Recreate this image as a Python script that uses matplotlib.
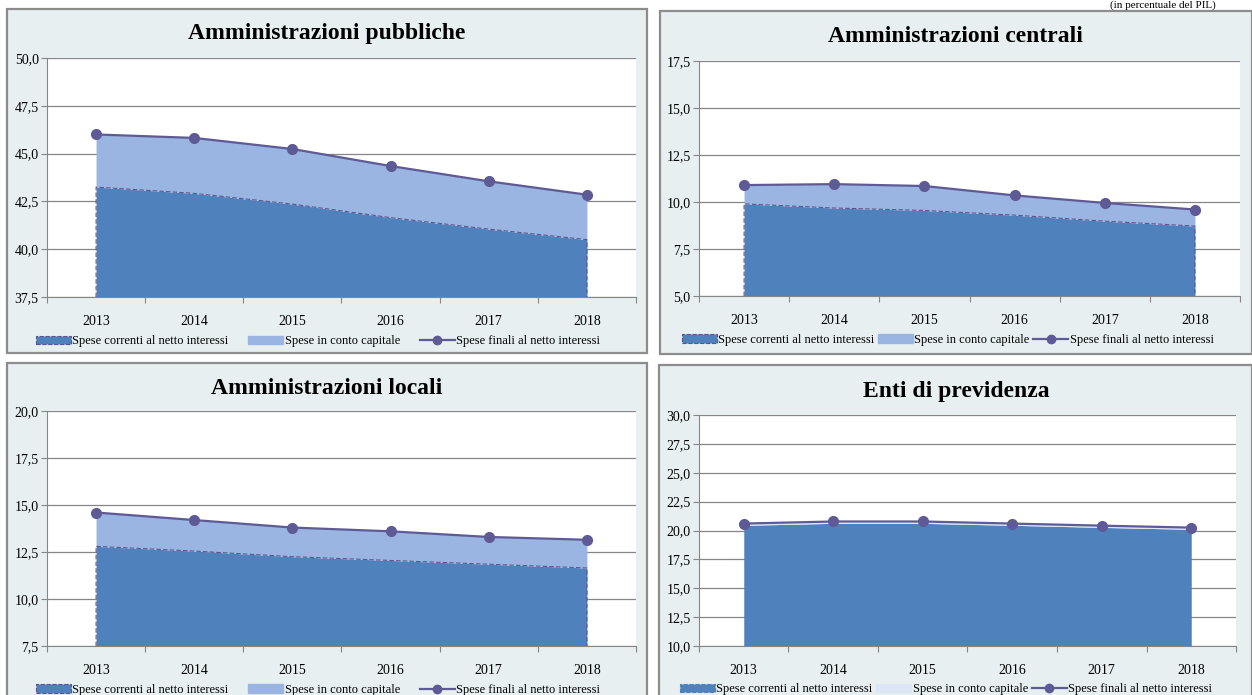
import matplotlib
matplotlib.use("Agg")
import matplotlib.pyplot as plt
from matplotlib.patches import Rectangle, Patch
from matplotlib.lines import Line2D
from matplotlib.ticker import FuncFormatter, FixedLocator

plt.rcParams['font.family'] = ['Liberation Serif', 'DejaVu Serif']

years = ['2013', '2014', '2015', '2016', '2017', '2018']

titles = ['Amministrazioni pubbliche', 'Amministrazioni centrali',
          'Amministrazioni locali', 'Enti di previdenza']

# Spese correnti al netto interessi
correnti_ap = [43.25, 42.92, 42.36, 41.65, 41.05, 40.50]
correnti_ac = [9.90, 9.68, 9.55, 9.30, 8.98, 8.72]
correnti_al = [12.80, 12.55, 12.25, 12.05, 11.85, 11.65]
correnti_ep = [20.45, 20.62, 20.62, 20.45, 20.27, 20.10]

# Spese finali al netto interessi
finali_ap = [46.00, 45.82, 45.24, 44.35, 43.55, 42.85]
finali_ac = [10.90, 10.95, 10.85, 10.35, 9.95, 9.60]
finali_al = [14.60, 14.20, 13.80, 13.60, 13.30, 13.15]
finali_ep = [20.60, 20.78, 20.78, 20.60, 20.42, 20.25]

ylims = [(37.5, 50.0), (5.0, 17.5), (7.5, 20.0), (10.0, 30.0)]

legend_labels = ['Spese correnti al netto interessi', 'Spese in conto capitale',
                 'Spese finali al netto interessi']

W, H = 1252, 695
fig = plt.figure(figsize=(W / 100, H / 100), dpi=100)
fig.patch.set_facecolor('white')

panel_bg = '#E7EFF1'
panel_edge = '#8C8C8C'
c_cur = '#4F81BD'
c_cap = ['#9BB5E2', '#9BB5E2', '#9BB5E2', '#DCE6F4']
c_line = '#5E5A95'
c_dash = '#5A5590'

# panel rectangles (px): left, top, right, bottom
panels = [(7, 9, 647, 353), (660, 11, 1252, 354), (7, 363, 647, 700), (659, 365, 1252, 700)]
# axes rectangles (px)
axes_px = [(47, 58, 636, 297), (699, 61, 1240, 296), (47, 411, 636, 646), (699, 415, 1236, 646)]
title_pos = [(327, 33), (955, 36), (327, 388), (956, 391)]
legend_spacing = [1.6, 0.3, 1.6, 0.3]
legend_x = [0.46, 0.46, 0.46, 0.46]

for (l, t, r, b) in panels:
    rect = Rectangle((l / W, 1 - b / H), (r - l) / W, (b - t) / H,
                     transform=fig.transFigure, facecolor=panel_bg,
                     edgecolor=panel_edge, linewidth=1.6)
    rect.set_zorder(-10)
    fig.add_artist(rect)

correnti = [correnti_ap, correnti_ac, correnti_al, correnti_ep]
finali = [finali_ap, finali_ac, finali_al, finali_ep]
fmt = FuncFormatter(lambda v, p: f"{v:.1f}".replace('.', ','))

for i in range(4):
    l, t, r, b = axes_px[i]
    ax = fig.add_axes([l / W, 1 - b / H, (r - l) / W, (b - t) / H])
    ax.set_zorder(1)
    ax.set_facecolor('white')
    x = list(range(len(years)))
    y0, y1 = ylims[i]
    cur = correnti[i]
    fin = finali[i]
    ax.fill_between(x, y0, cur, color=c_cur, linewidth=0, zorder=2)
    ax.fill_between(x, cur, fin, color=c_cap[i], linewidth=0, zorder=2)
    if i != 3:
        ax.plot([x[0]] + x + [x[-1]], [y0] + cur + [y0], linestyle=(0, (4, 2)),
                color=c_dash, linewidth=0.8, zorder=3)
    ax.plot(x, fin, color=c_line, linewidth=1.6, marker='o', markersize=7, zorder=4)
    ax.set_xlim(-0.5, len(years) - 0.5)
    ax.set_ylim(y0, y1)
    ax.yaxis.set_major_locator(FixedLocator([y0 + 2.5 * k for k in range(int(round((y1 - y0) / 2.5)) + 1)]))
    ax.yaxis.set_major_formatter(fmt)
    ax.set_xticks([k - 0.5 for k in range(len(years) + 1)])
    ax.set_xticklabels([])
    ax.set_xticks(x, minor=True)
    ax.set_xticklabels(years, minor=True)
    ax.tick_params(axis='x', which='minor', length=0, pad=13, labelsize=10)
    ax.tick_params(axis='x', which='major', length=4, color='#868686', width=0.8)
    ax.tick_params(axis='y', length=4, color='#868686', width=0.8, labelsize=10, pad=2)
    ax.grid(axis='y', color='#868686', linewidth=0.9, zorder=1)
    ax.set_axisbelow(True)
    for s in ['top', 'right']:
        ax.spines[s].set_visible(False)
    ax.spines['left'].set_color('#868686')
    ax.spines['bottom'].set_color('#868686')

    handles = [
        Patch(facecolor=c_cur, edgecolor=(c_dash if i != 3 else c_cur), linestyle='--', linewidth=0.8),
        Patch(facecolor=c_cap[i], edgecolor=c_cap[i]),
        Line2D([0], [0], color=c_line, linewidth=1.6, marker='o', markersize=6),
    ]
    ax.legend(handles, legend_labels, loc='upper center', bbox_to_anchor=(legend_x[i], -0.14),
              ncol=3, frameon=False, fontsize=9, handlelength=2.8, handleheight=0.7,
              columnspacing=legend_spacing[i], handletextpad=0.1, borderaxespad=0)

    tx, ty = title_pos[i]
    fig.text(tx / W, 1 - ty / H, titles[i], ha='center', va='center',
             fontsize=17, fontweight='bold')

fig.text(1216 / W, 1 - 5 / H, '(in percentuale del PIL)', ha='right', va='center', fontsize=8)

fig.savefig('out.png', dpi=100, facecolor='white')
